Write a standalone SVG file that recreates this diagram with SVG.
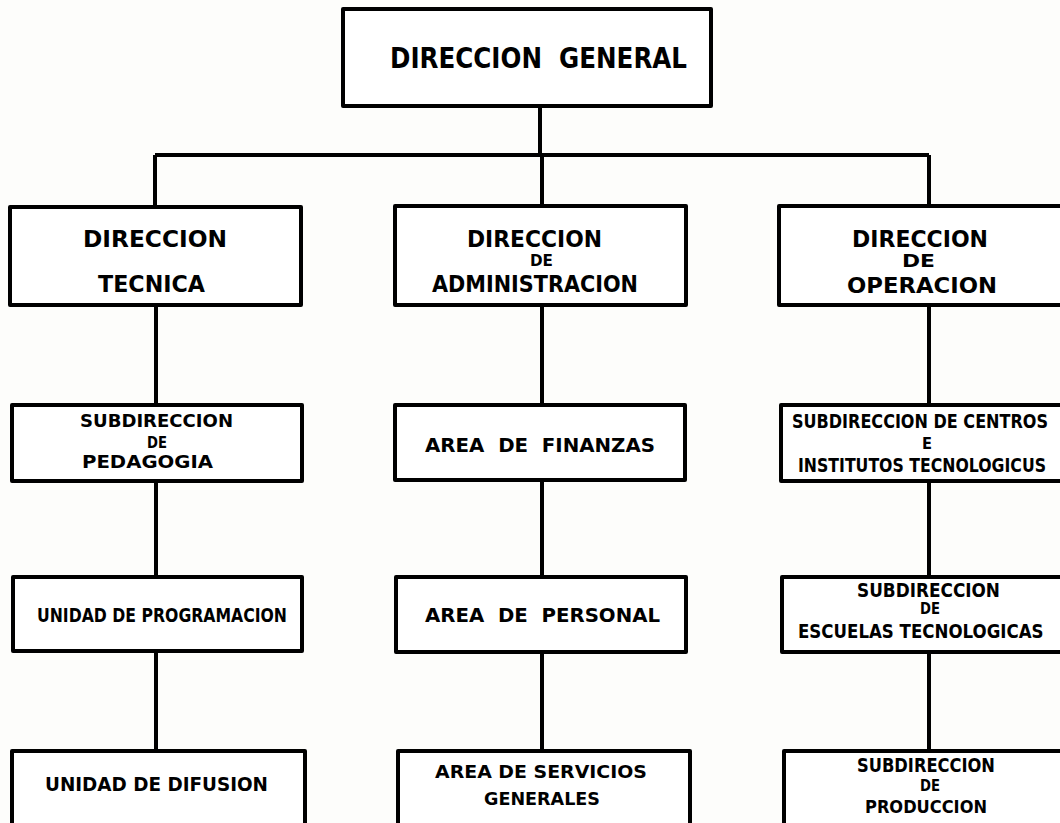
<svg xmlns="http://www.w3.org/2000/svg" width="1060" height="823" viewBox="0 0 1060 823">
<style>
.bx{fill:#fff;stroke:#000;stroke-width:4;stroke-linejoin:round}
.t{font-family:"DejaVu Sans","Liberation Sans",sans-serif;font-weight:bold;fill:#000}
.cn{stroke:#000;stroke-width:4;fill:none}
</style>
<rect width="1060" height="823" fill="#fdfdfb"/>
<g id="connectors">
<path class="cn" d="M540 106V155M155 155H929M155 155V207M542 155V206M929 155V206"/>
<path class="cn" d="M156 305V405M156 481V577M156 651V751"/>
<path class="cn" d="M542 305V405M542 480V577M542 652V751"/>
<path class="cn" d="M929 305V405M929 481V577M929 652V751"/>
</g>
<g id="direccion-general">
<rect class="bx" x="343" y="9" width="368" height="97"/>
<text class="t" x="390" y="68" font-size="28" textLength="297" lengthAdjust="spacingAndGlyphs" xml:space="preserve">DIRECCION  GENERAL</text>
</g>
<g id="direccion-tecnica">
<rect class="bx" x="10" y="207" width="291" height="98"/>
<text class="t" x="83" y="247" font-size="23" textLength="144" lengthAdjust="spacingAndGlyphs">DIRECCION</text>
<text class="t" x="98" y="292" font-size="23" textLength="107" lengthAdjust="spacingAndGlyphs">TECNICA</text>
</g>
<g id="direccion-administracion">
<rect class="bx" x="395" y="206" width="291" height="99"/>
<text class="t" x="467" y="247" font-size="23" textLength="135" lengthAdjust="spacingAndGlyphs">DIRECCION</text>
<text class="t" x="530" y="266" font-size="16" textLength="23" lengthAdjust="spacingAndGlyphs">DE</text>
<text class="t" x="432" y="292" font-size="23" textLength="206" lengthAdjust="spacingAndGlyphs">ADMINISTRACION</text>
</g>
<g id="direccion-operacion">
<rect class="bx" x="779" y="206" width="296" height="99"/>
<text class="t" x="852" y="247" font-size="23" textLength="136" lengthAdjust="spacingAndGlyphs">DIRECCION</text>
<text class="t" x="902" y="267" font-size="18" textLength="33" lengthAdjust="spacingAndGlyphs">DE</text>
<text class="t" x="847" y="293" font-size="22" textLength="150" lengthAdjust="spacingAndGlyphs">OPERACION</text>
</g>
<g id="subdireccion-pedagogia">
<rect class="bx" x="12" y="405" width="290" height="76"/>
<text class="t" x="80" y="427" font-size="17" textLength="153" lengthAdjust="spacingAndGlyphs">SUBDIRECCION</text>
<text class="t" x="147" y="448" font-size="15" textLength="20" lengthAdjust="spacingAndGlyphs">DE</text>
<text class="t" x="82" y="468" font-size="17" textLength="131" lengthAdjust="spacingAndGlyphs">PEDAGOGIA</text>
</g>
<g id="area-finanzas">
<rect class="bx" x="395" y="405" width="290" height="75"/>
<text class="t" x="425" y="452" font-size="20" textLength="230" lengthAdjust="spacingAndGlyphs" xml:space="preserve">AREA  DE  FINANZAS</text>
</g>
<g id="subdireccion-centros">
<rect class="bx" x="781" y="405" width="296" height="76"/>
<text class="t" transform="scale(0.8 1)" x="990" y="428" font-size="20" textLength="320" lengthAdjust="spacingAndGlyphs">SUBDIRECCION DE CENTROS</text>
<text class="t" x="922" y="449" font-size="15" textLength="10" lengthAdjust="spacingAndGlyphs">E</text>
<text class="t" transform="scale(0.8 1)" x="997.5" y="472" font-size="20" textLength="310" lengthAdjust="spacingAndGlyphs">INSTITUTOS TECNOLOGICUS</text>
</g>
<g id="unidad-programacion">
<rect class="bx" x="13" y="577" width="289" height="74"/>
<text class="t" x="37" y="622" font-size="20" textLength="250" lengthAdjust="spacingAndGlyphs">UNIDAD DE PROGRAMACION</text>
</g>
<g id="area-personal">
<rect class="bx" x="396" y="577" width="290" height="75"/>
<text class="t" x="425" y="622" font-size="20" textLength="235" lengthAdjust="spacingAndGlyphs" xml:space="preserve">AREA  DE  PERSONAL</text>
</g>
<g id="subdireccion-escuelas">
<rect class="bx" x="782" y="577" width="295" height="75"/>
<text class="t" x="857" y="597" font-size="19" textLength="143" lengthAdjust="spacingAndGlyphs">SUBDIRECCION</text>
<text class="t" x="920" y="614" font-size="15" textLength="20" lengthAdjust="spacingAndGlyphs">DE</text>
<text class="t" transform="scale(0.8 1)" x="997.5" y="638" font-size="20" textLength="307" lengthAdjust="spacingAndGlyphs">ESCUELAS TECNOLOGICAS</text>
</g>
<g id="unidad-difusion">
<rect class="bx" x="12" y="751" width="293" height="80"/>
<text class="t" x="45" y="791" font-size="19" textLength="223" lengthAdjust="spacingAndGlyphs">UNIDAD DE DIFUSION</text>
</g>
<g id="area-servicios-generales">
<rect class="bx" x="398" y="751" width="292" height="80"/>
<text class="t" x="435" y="778" font-size="18" textLength="212" lengthAdjust="spacingAndGlyphs">AREA DE SERVICIOS</text>
<text class="t" x="484" y="805" font-size="18" textLength="116" lengthAdjust="spacingAndGlyphs">GENERALES</text>
</g>
<g id="subdireccion-produccion">
<rect class="bx" x="784" y="751" width="293" height="80"/>
<text class="t" x="857" y="772" font-size="19" textLength="138" lengthAdjust="spacingAndGlyphs">SUBDIRECCION</text>
<text class="t" x="920" y="791" font-size="15" textLength="20" lengthAdjust="spacingAndGlyphs">DE</text>
<text class="t" x="865" y="813" font-size="18" textLength="122" lengthAdjust="spacingAndGlyphs">PRODUCCION</text>
</g>
</svg>
